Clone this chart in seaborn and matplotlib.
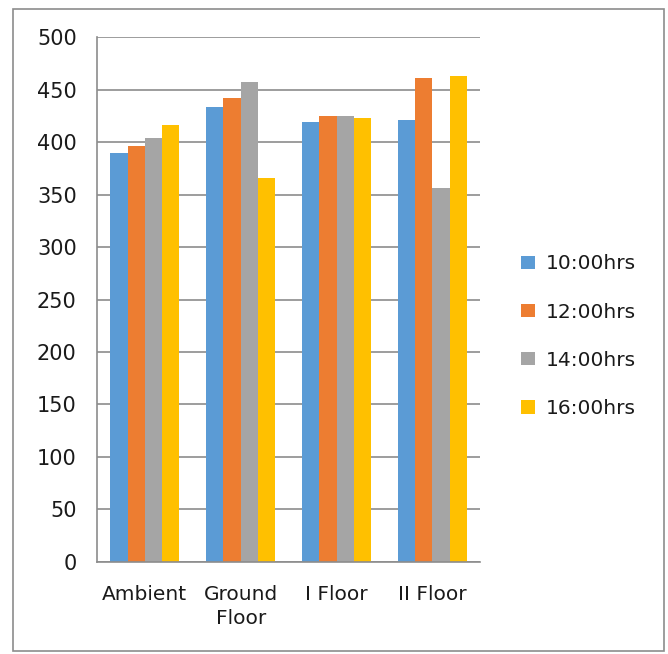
import pandas as pd
import matplotlib.pyplot as plt
import seaborn as sns
from matplotlib.patches import Rectangle

# data
categories = ['Ambient', 'Ground\nFloor', 'I Floor', 'II Floor']
times = ['10:00hrs', '12:00hrs', '14:00hrs', '16:00hrs']
v10 = [390, 434, 419, 421]
v12 = [396, 442, 425, 461]
v14 = [404, 457, 425, 356]
v16 = [416, 366, 423, 463]

rows = []
for t, vals in zip(times, [v10, v12, v14, v16]):
    for c, v in zip(categories, vals):
        rows.append({'cat': c, 'time': t, 'value': v})
df = pd.DataFrame(rows)

sns.set_style('white')
plt.rcParams['font.family'] = ['DejaVu Sans']
plt.rcParams['text.color'] = '#1a1a1a'

fig = plt.figure(figsize=(6.68, 6.54), dpi=100)
ax = fig.add_axes([0.145, 0.141, 0.574, 0.802])

palette = ['#5B9BD5', '#ED7D31', '#A5A5A5', '#FFC000']
sns.barplot(data=df, x='cat', y='value', hue='time', palette=palette,
            width=0.72, gap=0, saturation=1, linewidth=0, ax=ax)

ax.set_ylim(0, 500)
ax.set_xlim(-0.5, 3.5)
ax.set_yticks(range(0, 501, 50))
ax.yaxis.grid(True, color='#8c8c8c', linewidth=1.2)
ax.set_axisbelow(True)
ax.set_xlabel('')
ax.set_ylabel('')
for s in ['top', 'right']:
    ax.spines[s].set_visible(False)
for s in ['left', 'bottom']:
    ax.spines[s].set_color('#8c8c8c')
    ax.spines[s].set_linewidth(1.2)

ax.tick_params(axis='y', length=6.5, color='#8c8c8c', labelcolor='#1a1a1a',
               labelsize=15, pad=8)
ax.tick_params(axis='x', which='major', length=0, labelsize=14.5, pad=17,
               labelcolor='#1a1a1a')
ax.set_xticks([-0.5, 0.5, 1.5, 2.5, 3.5], minor=True)
ax.tick_params(axis='x', which='minor', length=6, color='#8c8c8c', width=1.2)
for lbl in ax.get_xticklabels():
    lbl.set_linespacing(1.3)

leg = ax.legend(loc='center left', bbox_to_anchor=(1.06, 0.43), frameon=False,
                fontsize=14.5, labelspacing=1.45, handlelength=0.65,
                handleheight=0.65, handletextpad=0.55)

# outer chart border
fig.patches.append(Rectangle((0.02, 0.005), 0.974, 0.982, transform=fig.transFigure,
                             fill=False, edgecolor='#8c8c8c', linewidth=1.2))

fig.savefig('out.png', dpi=100)
